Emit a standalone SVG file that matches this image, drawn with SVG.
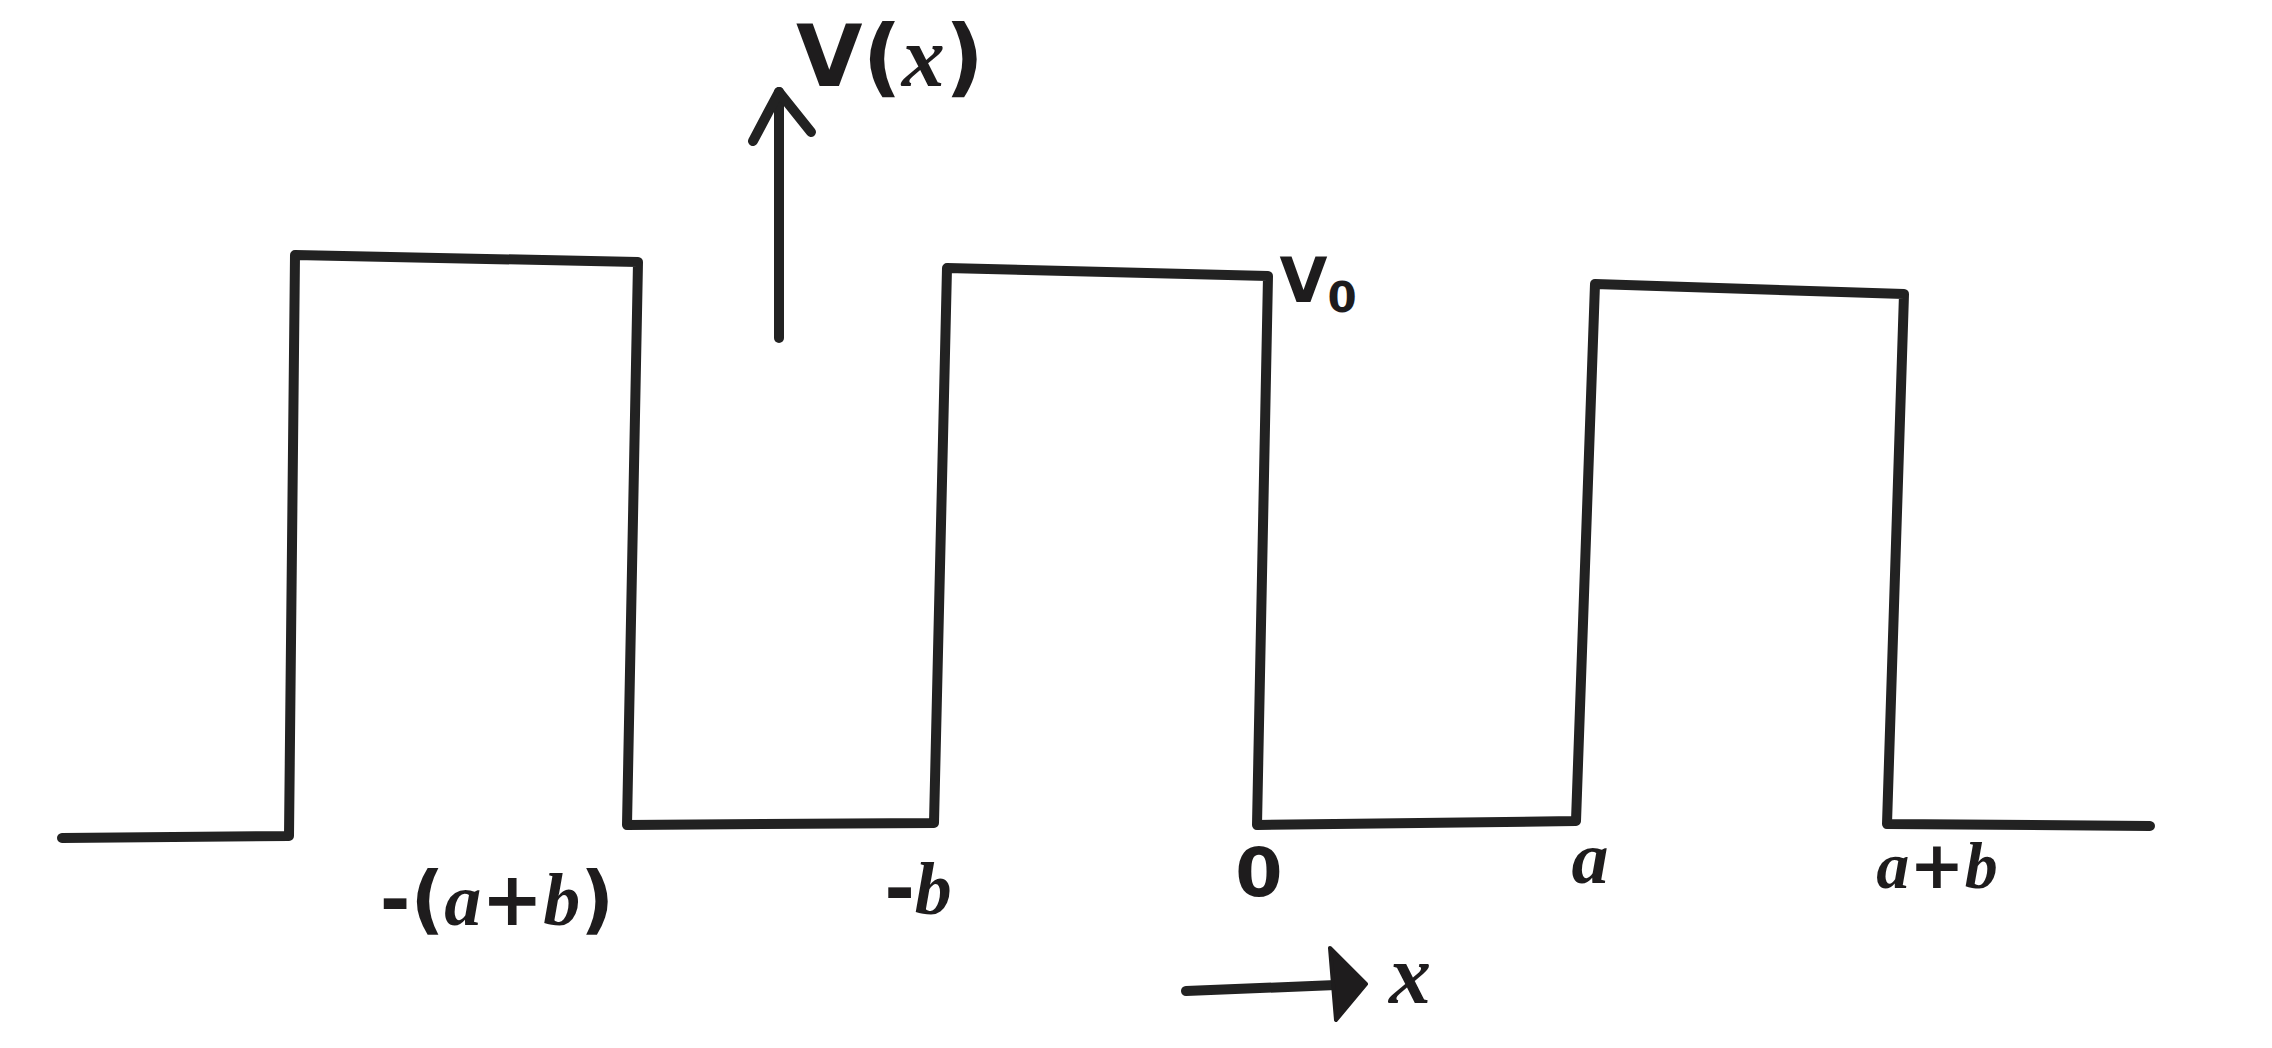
<svg xmlns="http://www.w3.org/2000/svg" width="2272" height="1048" viewBox="0 0 2272 1048">
<defs>
<style>
.ln{fill:none;stroke:#222;stroke-width:10;stroke-linecap:round;stroke-linejoin:round}
.lbl{font-family:"DejaVu Sans","Liberation Sans",sans-serif;fill:#1e1c1d;text-anchor:middle;font-weight:bold}
.it{font-family:"Liberation Serif","DejaVu Serif",serif;font-style:italic;font-weight:bold}
</style>
</defs>
<rect width="2272" height="1048" fill="#ffffff"/>
<g id="potential">
<path class="ln" d="M62,838 L289,836 L295,255 L638,262 L627,825 L934,823 L947,268 L1268,276 L1257,825 L1576,821 L1595,284 L1904,294 L1887,824 L2150,826"/>
</g>
<g id="connectors">
<g id="v-axis">
<path class="ln" d="M779,338 L779,92"/>
<path class="ln" d="M753,141 L779,92 L811,132"/>
</g>
<g id="x-axis">
<path class="ln" d="M1186,991 L1336,985"/>
<path d="M1330,948 L1366,984 L1336,1020 Z" fill="#1e1c1d" stroke="#1e1c1d" stroke-width="4" stroke-linejoin="round"/>
</g>
</g>
<g id="labels">
<text class="lbl" x="890" y="86" font-size="86">V(<tspan class="it">x</tspan>)</text>
<text class="lbl" x="1318" y="302" font-size="62">V<tspan font-size="42" dy="10">0</tspan></text>
<text class="lbl" x="497" y="925" font-size="74">-(<tspan class="it">a</tspan>+<tspan class="it">b</tspan>)</text>
<text class="lbl" x="918" y="914" font-size="74">-<tspan class="it">b</tspan></text>
<text class="lbl" x="1259" y="896" font-size="68">0</text>
<text class="lbl it" x="1590" y="883" font-size="74">a</text>
<text class="lbl" x="1937" y="888" font-size="66"><tspan class="it">a</tspan>+<tspan class="it">b</tspan></text>
<text class="lbl it" x="1410" y="1003" font-size="84">x</text>
</g>
</svg>
